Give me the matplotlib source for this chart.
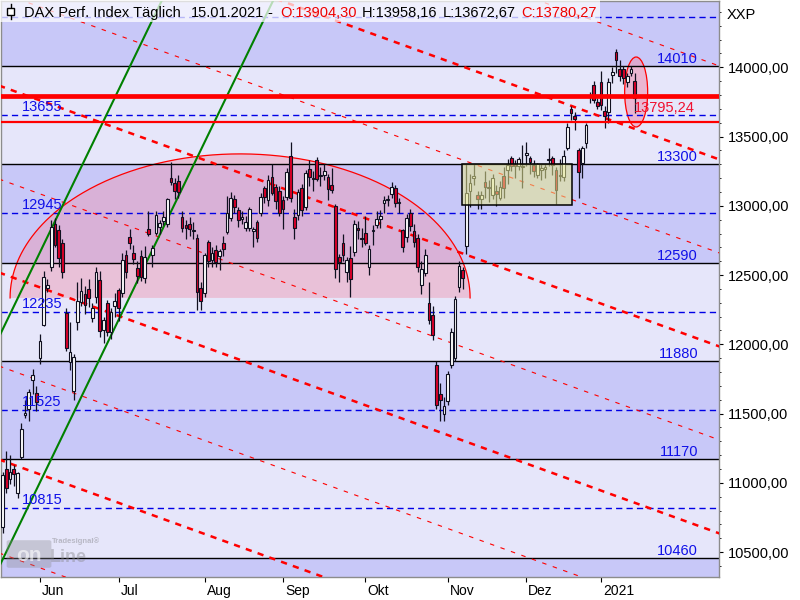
import numpy as np
import pandas as pd
import matplotlib
matplotlib.use('Agg')
import matplotlib.pyplot as plt
from matplotlib.patches import Rectangle, Ellipse, FancyBboxPatch
from matplotlib.ticker import MultipleLocator, FuncFormatter
import matplotlib.transforms as mtransforms

plt.rcParams['font.family'] = ['Liberation Sans', 'DejaVu Sans']

# trading days (Xetra closed on Whit Monday and around Christmas / New Year)
holidays = ['2020-06-01', '2020-12-24', '2020-12-25', '2020-12-31', '2021-01-01']
dates = pd.bdate_range('2020-05-18', '2021-01-15', freq='C', holidays=holidays)

opens = [10680, 11100, 11030, 11100, 10930, 11190, 11490, 11530, 11740, 11650,
         11900, 12140, 12405, 12560, 12870, 12826, 12730, 12226, 11873, 11660,
         12160, 12306, 12360, 12400, 12190, 12340, 12465, 12104, 12300, 12090,
         12280, 12393, 12370, 12645, 12775, 12660, 12550, 12640, 12480, 12830,
         12645, 12805, 12850, 12890, 12870, 13200, 13165, 13180, 12920, 12860,
         12870, 12815, 12770, 12407, 12370, 12740, 12610, 12680, 12640, 12730,
         12810, 12913, 13050, 12970, 12905, 12840, 12840, 12820, 12885, 12950,
         13130, 13040, 13210, 13137, 13108, 13042, 13064, 13360, 12920, 12935,
         13130, 12990, 13265, 13195, 13330, 13215, 13225, 13210, 13150, 13000,
         12630, 12730, 12523, 12625, 12667, 12840, 12770, 12805, 12558, 12820,
         12862, 12905, 13020, 13040, 13085, 13128, 13020, 12825, 12775, 12950,
         12820, 12768, 12430, 12515, 12300, 12210, 11850, 11640, 11500, 11590,
         11850, 11900, 12414, 12537, 12710, 13110, 13200, 13080, 13050, 13172,
         13130, 13080, 13107, 13057, 13216, 13260, 13345, 13305, 13290, 13280,
         13370, 13345, 13295, 13225, 13260, 13265, 13330, 13345, 13259, 13215,
         13210, 13418, 13700, 13650, 13403, 13310, 13454, 13787, 13873, 13750,
         13894, 13685, 13680, 13945, 14110, 13988, 13988, 13897, 13960, 13904]
highs = [11080, 11230, 11200, 11130, 11080, 11430, 11600, 11680, 11820, 11700,
         12075, 12530, 12470, 12900, 12915, 12860, 12760, 12260, 12160, 11930,
         12450, 12480, 12420, 12470, 12300, 12560, 12530, 12200, 12320, 12260,
         12370, 12410, 12660, 12680, 12830, 12720, 12600, 12680, 12710, 12960,
         12720, 12960, 12900, 12960, 13060, 13314, 13200, 13220, 12960, 12900,
         12920, 12880, 12800, 12450, 12660, 12750, 12700, 12720, 12690, 12780,
         13070, 13100, 13080, 12990, 12960, 12930, 12990, 12850, 12900, 13090,
         13140, 13220, 13300, 13160, 13140, 13070, 13270, 13460, 12980, 13120,
         13160, 13260, 13330, 13250, 13350, 13280, 13300, 13230, 13270, 13010,
         12650, 12800, 12630, 12710, 12900, 12890, 12840, 12930, 12720, 12860,
         12960, 12970, 13070, 13080, 13170, 13150, 13060, 12830, 12940, 12980,
         12870, 12800, 12600, 12690, 12450, 12280, 11880, 11720, 11620, 11810,
         12120, 12350, 12600, 12560, 13300, 13230, 13300, 13110, 13110, 13250,
         13190, 13230, 13150, 13180, 13280, 13340, 13360, 13330, 13350, 13440,
         13460, 13360, 13330, 13310, 13300, 13300, 13420, 13360, 13280, 13340,
         13400, 13600, 13720, 13680, 13420, 13430, 13600, 13820, 13900, 13780,
         13970, 13720, 13920, 14000, 14132, 14053, 14010, 13960, 14010, 13958]
lows = [10640, 10930, 10990, 10980, 10890, 11170, 11470, 11450, 11640, 11520,
        11860, 12130, 12380, 12530, 12700, 12560, 12480, 11950, 11815, 11600,
        12100, 12280, 12220, 12270, 12160, 12300, 12050, 12010, 12060, 12040,
        12200, 12170, 12340, 12480, 12690, 12580, 12440, 12460, 12440, 12780,
        12560, 12790, 12800, 12860, 12850, 13150, 13050, 13060, 12810, 12760,
        12780, 12760, 12250, 12250, 12340, 12560, 12560, 12560, 12540, 12640,
        12800, 12890, 12950, 12850, 12870, 12820, 12820, 12700, 12740, 12930,
        13020, 13000, 13080, 12980, 12930, 12830, 13040, 13030, 12760, 12900,
        12930, 12970, 13140, 13110, 13180, 13140, 13190, 13040, 13090, 12480,
        12450, 12600, 12450, 12340, 12640, 12760, 12700, 12720, 12500, 12720,
        12840, 12840, 12950, 13000, 13060, 12990, 12950, 12670, 12740, 12820,
        12700, 12520, 12360, 12490, 12150, 12030, 11530, 11450, 11450, 11560,
        11830, 11880, 12380, 12400, 12650, 12990, 13150, 12980, 12980, 13060,
        13030, 13050, 13000, 13040, 13060, 13160, 13250, 13200, 13260, 13130,
        13290, 13230, 13210, 13200, 13190, 13200, 13290, 13220, 13010, 13180,
        13180, 13400, 13620, 13550, 13060, 13200, 13420, 13745, 13740, 13700,
        13690, 13562, 13600, 13890, 13960, 13900, 13880, 13860, 13940, 13673]
closes = [11058, 10963, 11075, 11066, 11074, 11391, 11505, 11657, 11781, 11587,
          12021, 12487, 12431, 12848, 12720, 12624, 12523, 11975, 11945, 11911,
          12315, 12382, 12281, 12331, 12262, 12523, 12093, 12177, 12089, 12232,
          12311, 12260, 12608, 12523, 12733, 12616, 12495, 12489, 12633, 12800,
          12697, 12931, 12875, 12920, 13046, 13171, 13104, 13103, 12838, 12839,
          12835, 12822, 12379, 12313, 12647, 12600, 12660, 12591, 12674, 12687,
          12946, 13058, 12994, 12901, 12920, 12881, 12977, 12830, 12765, 13067,
          13062, 13190, 13096, 13033, 12945, 12974, 13243, 13057, 12843, 13100,
          12968, 13237, 13209, 13202, 13194, 13217, 13255, 13120, 13116, 12542,
          12594, 12643, 12607, 12469, 12870, 12826, 12761, 12730, 12689, 12828,
          12906, 12928, 13042, 13051, 13138, 13018, 13028, 12704, 12909, 12854,
          12737, 12558, 12543, 12646, 12177, 12064, 11561, 11598, 11556, 11789,
          12089, 12324, 12568, 12480, 13096, 13163, 13217, 13052, 13077, 13139,
          13134, 13202, 13086, 13137, 13127, 13292, 13290, 13286, 13336, 13291,
          13383, 13313, 13253, 13299, 13271, 13278, 13340, 13296, 13114, 13223,
          13363, 13566, 13667, 13630, 13246, 13418, 13587, 13790, 13761, 13719,
          13727, 13651, 13892, 13968, 14050, 13937, 13925, 13940, 13989, 13780]

month_names = ['Jun', 'Jul', 'Aug', 'Sep', 'Okt', 'Nov', 'Dez', '2021']

# horizontal levels
solid_levels = [14010, 13300, 12590, 11880, 11170, 10460]
dashed_levels = [14365, 13655, 12945, 12235, 11525, 10815]
red_level_main = 13795.24
red_level_low = 13605

# descending channel (value at first candle, points per day)
channel_thick = [15209, 13859, 12509, 11159]
channel_thin = [15884, 14534, 13184, 11834, 10484]
channel_slope = -9.78
# rising green lines
green_start = [12107, 10446]
green_slope = 55.8

# drawing objects
dome = dict(x=63.5, y=12335, half_w=61.5, h=1040)
box = dict(x0=122.9, x1=152.2, y0=13006, y1=13300)
oval = dict(x=169.4, y=13822, w=6.15, h=505)

x = np.arange(len(closes))
o = np.array(opens, float)
h = np.array(highs, float)
l = np.array(lows, float)
c = np.array(closes, float)

fig = plt.figure(figsize=(8, 6), dpi=100)
fig.patch.set_facecolor('white')
ax = fig.add_axes([0.5 / 800, 23 / 600, 718.5 / 800, 576 / 600])
ax.set_xlim(-0.56, 191.55)
ax.set_ylim(10320, 14479)

dark = '#c8c8f8'
light = '#e6e6fa'
bounds = [14600] + solid_levels + [10000]
for k in range(len(bounds) - 1):
    ax.axhspan(bounds[k + 1], bounds[k], color=dark if k % 2 == 0 else light,
               lw=0, zorder=0)

# dome
t = np.linspace(0, np.pi, 300)
dx = dome['x'] + dome['half_w'] * np.cos(t)
dy = dome['y'] + dome['h'] * np.sin(t)
ax.fill(dx, dy, color='#ee96af', alpha=0.45, lw=0, zorder=1)
ax.plot(dx, dy, color='#ff0000', lw=0.9, zorder=1.5)

ax.add_patch(Ellipse((oval['x'], oval['y']), oval['w'], oval['h'],
                     facecolor='#ee90b0', alpha=0.55, edgecolor='none', zorder=1))
ax.add_patch(Ellipse((oval['x'], oval['y']), oval['w'], oval['h'],
                     facecolor='none', edgecolor='#ff0000', lw=0.9, zorder=1.6))

for lv in solid_levels:
    ax.axhline(lv, color='black', lw=1.0, zorder=2)
for lv in dashed_levels:
    ax.axhline(lv, color='#0000e6', lw=1.0, ls=(0, (4.5, 3)), zorder=2)

xs = np.array([-2, 195])
for s in channel_thick:
    ax.plot(xs, s + channel_slope * xs, color='#ff0000', lw=1.8,
            ls=(0, (2.5, 2.5)), zorder=3)
for s in channel_thin:
    ax.plot(xs, s + channel_slope * xs, color='#ff0000', lw=0.8,
            ls=(0, (4, 6)), zorder=3)
for s in green_start:
    ax.plot(xs, s + green_slope * xs, color='#008000', lw=1.5, zorder=3)

# candles
up = c >= o
ax.vlines(x, l, h, color='#101020', lw=0.9, zorder=5)
body_lo = np.minimum(o, c)
body_h = np.maximum(np.abs(c - o), 5)
ax.bar(x, body_h, bottom=body_lo, width=0.72,
       color=np.where(up, 'white', '#dc0028'), edgecolor='#101020',
       lw=0.8, zorder=6)

# consolidation box drawn over the candles
ax.add_patch(Rectangle((box['x0'], box['y0']), box['x1'] - box['x0'],
                       box['y1'] - box['y0'], facecolor=(0.9, 0.91, 0.55),
                       alpha=0.55, edgecolor='none', zorder=7))
ax.add_patch(Rectangle((box['x0'], box['y0']), box['x1'] - box['x0'],
                       box['y1'] - box['y0'], facecolor='none',
                       edgecolor='black', lw=1.1, zorder=7.5))

ax.axhline(red_level_main, color='#ff0000', lw=3.4, zorder=8)
ax.axhline(red_level_low, color='#ff0000', lw=1.6, zorder=8)

lbl_font = dict(fontsize=10.5, color='#1010e8')
for lv in solid_levels:
    ax.annotate(str(lv), xy=(0.9708, lv), xycoords=('axes fraction', 'data'),
                xytext=(0, 3), textcoords='offset pixels', ha='right',
                va='baseline', zorder=9, **lbl_font)
for lv in dashed_levels[1:]:
    ax.annotate(str(lv), xy=(0.0299, lv), xycoords=('axes fraction', 'data'),
                xytext=(0, 4), textcoords='offset pixels', ha='left',
                va='baseline', zorder=9, **lbl_font)
ax.annotate(f'{red_level_main:.2f}'.replace('.', ','), xy=(168.9, red_level_main),
            xytext=(0, -5), textcoords='offset pixels', ha='left', va='top',
            fontsize=10.5, color='#f01030', zorder=9)

# axes
for sp in ax.spines.values():
    sp.set_color('#8c8c8c')
    sp.set_linewidth(1)
ax.yaxis.tick_right()
ax.yaxis.set_major_locator(MultipleLocator(500))
ax.yaxis.set_minor_locator(MultipleLocator(100))
ax.yaxis.set_major_formatter(FuncFormatter(lambda v, p: f'{v:.2f}'.replace('.', ',')))
ax.tick_params(axis='y', which='major', length=3, pad=3.6, labelsize=10.5,
               colors='black')
ax.tick_params(axis='y', which='minor', length=1.6, colors='black')

month_idx = []
for mth in range(6, 13):
    month_idx.append(int(np.argmax((dates.month == mth) & (dates.year == 2020))))
month_idx.append(int(np.argmax(dates.year == 2021)))
ax.set_xticks(month_idx)
ax.set_xticklabels(month_names)
ax.tick_params(axis='x', length=3.6, pad=1.5, labelsize=10, colors='black')
shift = mtransforms.ScaledTranslation(2 / 100, 0, fig.dpi_scale_trans)
for lab in ax.get_xticklabels():
    lab.set_ha('left')
    lab.set_transform(lab.get_transform() + shift)

# header
fig.add_artist(Rectangle((0, 1 - 22 / 600), 600 / 800, 22 / 600,
                         transform=fig.transFigure, facecolor='white',
                         alpha=0.72, edgecolor='none', zorder=10))
fig.add_artist(plt.Line2D([10.5 / 800, 10.5 / 800], [1 - 4 / 600, 1 - 19 / 600],
                          transform=fig.transFigure, color='black', lw=1, zorder=11))
fig.add_artist(Rectangle((7 / 800, 1 - 15 / 600), 7 / 800, 7 / 600,
                         transform=fig.transFigure, facecolor='white',
                         edgecolor='black', lw=1, zorder=12))
header = [('DAX Perf. Index Täglich', 24, 'black'), ('15.01.2021', 191, 'black'),
          ('-', 267, 'black'), ('O:13904,30', 280, '#ee0000'),
          ('H:13958,16', 362, 'black'), ('L:13672,67', 443, 'black'),
          ('C:13780,27', 521, '#ee0000')]
for txt, px, col in header:
    fig.text(px / 800, 1 - 17 / 600, txt, color=col, fontsize=10.5,
             va='baseline', ha='left', zorder=13)
fig.text(727 / 800, 1 - 19 / 600, 'XXP', fontsize=10.5, va='baseline', ha='left')

# watermark
fig.add_artist(FancyBboxPatch((9 / 800, 1 - 566 / 600), 40 / 800, 24 / 600,
                              boxstyle='round,pad=0.003', transform=fig.transFigure,
                              facecolor='#8a8a90', alpha=0.35, edgecolor='none',
                              zorder=4))
fig.text(29 / 800, 1 - 561 / 600, 'on', fontsize=15, fontweight='bold',
         color='white', alpha=0.6, ha='center', va='baseline', zorder=5)
fig.text(50 / 800, 1 - 562 / 600, 'Line', fontsize=13, fontweight='bold',
         color='#8a8a90', alpha=0.45, ha='left', va='baseline', zorder=5)
fig.text(52 / 800, 1 - 543 / 600, 'Tradesignal®', fontsize=5.5, fontweight='bold',
         color='#8a8a90', alpha=0.5, ha='left', va='baseline', zorder=5)

fig.savefig('out.png', dpi=100)
